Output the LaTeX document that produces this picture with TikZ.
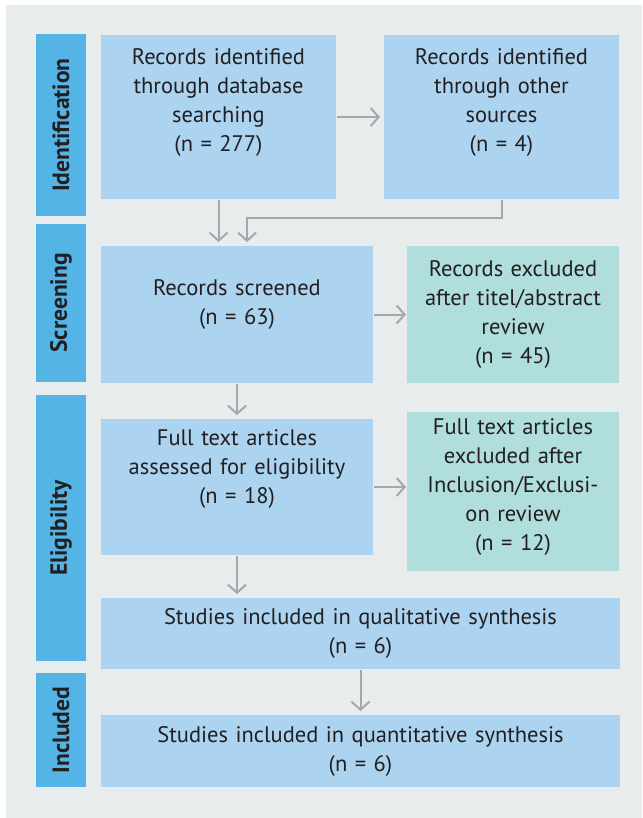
\documentclass[tikz,border=0pt]{standalone}
\usepackage{fontspec}
\setmainfont{PT Sans}
\usetikzlibrary{arrows.meta, positioning}
\usepackage{xcolor}
\definecolor{stageblue}{RGB}{84,180,230}
\definecolor{boxblue}{RGB}{172,212,240}
\definecolor{boxteal}{RGB}{176,222,220}
\definecolor{panelgray}{RGB}{233,236,236}
\definecolor{arrowgray}{RGB}{166,167,171}
\definecolor{textdark}{RGB}{35,31,32}
\def\boxfont{\fontsize{22.5}{29}\selectfont}
\def\stagefont{\fontsize{23.5}{29}\selectfont\bfseries}

\begin{document}
\begin{tikzpicture}[x=1pt,y=-1pt,->,>={Straight Barb[length=8pt,width=18pt]},line width=2pt,draw=arrowgray,shorten >=3pt]
    \tikzstyle{box}=[rectangle,draw=none,fill=boxblue,inner sep=0pt,align=center,font=\boxfont,text=textdark]
    \tikzstyle{main box}=[box,text width=225pt]
    \tikzstyle{excl box}=[box,fill=boxteal,text width=208pt]
    \tikzstyle{wide box}=[box,text width=500pt,minimum width=519pt]
    \tikzstyle{stage}=[box,fill=stageblue,rotate=90,minimum height=50pt,font=\stagefont]

    % panel and page size
    \useasboundingbox (0,0) rectangle (642,818);
    \fill[panelgray] (6,5) rectangle (642,818);

    % Draw the stage labels on the left
    \node[stage, minimum width=182pt] (ident) at (61,125) {Identification};
    \node[stage, minimum width=158pt] (screen) at (61,303) {Screening};
    \node[stage, minimum width=266pt] (elig) at (61,528) {Eligibility};
    \node[stage, minimum width=114pt] (incl) at (61,730) {Included};

    % Draw the boxes
    \node[main box, minimum width=235pt, minimum height=164pt, text depth=121pt] (db rec) at (218.5,117)
        {Records identified\\through database\\searching\\(n = 277)};
    \node[main box, minimum width=235pt, minimum height=164pt, text depth=121pt] (other rec) at (501.5,117)
        {Records identified\\through other\\sources\\(n = 4)};
    \node[main box, minimum width=272pt, minimum height=137pt, text depth=53pt] (screened) at (237,314.5)
        {Records screened\\(n = 63)};
    \node[excl box, minimum width=212pt, minimum height=137pt] (excl screen) at (513,314.5)
        {Records excluded\\after titel/abstract\\review\\(n = 45)};
    \node[main box, minimum width=272pt, minimum height=136pt, text depth=98pt] (full text) at (237,487)
        {Full text articles\\assessed for eligibility\\(n = 18)};
    \node[excl box, minimum width=212pt, minimum height=159pt, text depth=130pt] (excl full) at (513,491.5)
        {Full text articles\\excluded after\\Inclusion/Exclusi-\\on review\\(n = 12)};
    \node[wide box, minimum height=71pt] (qual) at (360.5,633.5)
        {Studies included in qualitative synthesis\\(n = 6)};
    \node[wide box, minimum height=72pt] (quant) at (360.5,751)
        {Studies included in quantitative synthesis\\(n = 6)};

    % Draw the arrows
    \draw (db rec.east) -- (other rec.west);
    \draw (db rec.south) -- (db rec.south |- screened.north);
    \draw (other rec.south) -- ++(0,18) -| ([xshift=10pt]screened.north);
    \draw[shorten >=0pt] (screened.east) -- (excl screen.west);
    \draw (screened.south) -- (full text.north);
    \draw[shorten >=0pt] (full text.east) -- (full text.east -| excl full.west);
    \draw (full text.south) -- (full text.south |- qual.north);
    \draw (qual.south) -- (quant.north);
\end{tikzpicture}
\end{document}
